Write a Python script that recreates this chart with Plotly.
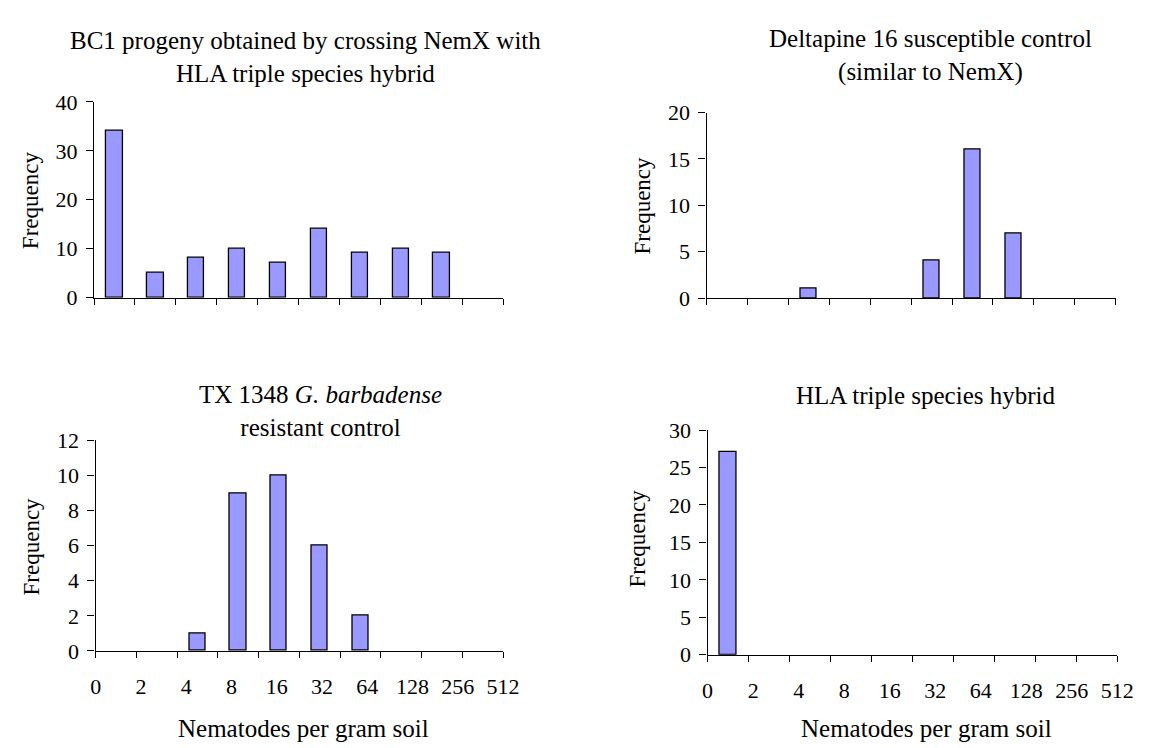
import plotly.graph_objects as go

# ---- data ----
bin_labels = ["0", "2", "4", "8", "16", "32", "64", "128", "256", "512"]
bin_index = [0, 1, 2, 3, 4, 5, 6, 7, 8, 9]  # bins between successive ticks

bc1_freq = [34, 5, 8.2, 10, 7.2, 14.1, 9.2, 10, 9.2, 0]
deltapine_freq = [0, 0, 1, 0, 0, 4, 16, 7, 0, 0]
tx1348_freq = [0, 0, 1, 9, 10, 6, 2, 0, 0, 0]
hla_freq = [27, 0, 0, 0, 0, 0, 0, 0, 0, 0]

titles = [
    "BC1 progeny obtained by crossing NemX with<br>HLA triple species hybrid",
    "Deltapine 16 susceptible control<br>(similar to NemX)",
    "TX 1348 <i>G. barbadense</i><br>resistant control",
    "HLA triple species hybrid",
]
y_ranges = [(0, 40), (0, 20), (0, 12), (0, 30)]
y_dticks = [10, 5, 2, 5]

W, H = 1155, 748
FONT = "Liberation Serif, Times New Roman, serif"
BAR_COLOR = "#9999FF"
TICK_SIZE = 22

# plot-area boxes in pixels: (left, right, top, bottom)
boxes = [
    (81.7, 499.0, 84.7, 287.3),
    (706.7, 1124.0, 95.7, 287.7),
    (83.3, 499.0, 435.0, 652.7),
    (707.7, 1125.7, 424.3, 656.7),
]

fig = go.Figure()
series = [bc1_freq, deltapine_freq, tx1348_freq, hla_freq]
centers = [i + 0.5 for i in bin_index]

for k, vals in enumerate(series):
    ax = "" if k == 0 else str(k + 1)
    fig.add_trace(go.Bar(
        x=centers, y=[v if v else None for v in vals], width=0.4,
        marker=dict(color=BAR_COLOR, line=dict(color="#000000", width=1.3)),
        xaxis="x" + ax, yaxis="y" + ax, showlegend=False, hoverinfo="x+y",
    ))

for k, (l, r, t, b) in enumerate(boxes):
    ax = "" if k == 0 else str(k + 1)
    xdom = [l / W, r / W]
    ydom = [1 - b / H, 1 - t / H]
    fig.layout["xaxis" + ax] = dict(
        domain=xdom, anchor="y" + ax, range=[0, 10],
        tickmode="array", tickvals=list(range(11)), showticklabels=False,
        ticks="outside", ticklen=6, tickwidth=1.3, tickcolor="black",
        showline=True, linecolor="black", linewidth=1.3,
        showgrid=False, zeroline=False, fixedrange=True,
    )
    fig.layout["yaxis" + ax] = dict(
        domain=ydom, anchor="x" + ax, range=list(y_ranges[k]),
        tickmode="linear", tick0=0, dtick=y_dticks[k],
        ticks="outside", ticklen=7, tickwidth=1.3, tickcolor="black",
        showline=True, linecolor="black", linewidth=1.3,
        showgrid=False, zeroline=False,
        tickfont=dict(family=FONT, size=TICK_SIZE, color="black"),
        ticklabelstandoff=4,
    )

# label axes for bottom plots (labels evenly spread across the axis)
for k, base in [(2, "3"), (3, "4")]:
    l, r, t, b = boxes[k]
    newax = str(k + 3)
    fig.add_trace(go.Scatter(
        x=bin_labels, y=[0] * len(bin_labels), mode="none",
        xaxis="x" + newax, yaxis="y" + base, showlegend=False, hoverinfo="skip",
    ))
    fig.layout["xaxis" + newax] = dict(
        domain=[l / W, r / W], anchor="y" + base, overlaying="x" + base,
        side="bottom", type="category", range=[0, 9],
        ticks="", showline=False, showgrid=False, zeroline=False,
        tickfont=dict(family=FONT, size=TICK_SIZE, color="black"),
        ticklabelstandoff=20, fixedrange=True,
    )

# titles and axis titles as annotations (pixel-placed)
def ann(text, x, y, size, angle=0):
    fig.add_annotation(
        text=text, x=x / W, y=1 - y / H, xref="paper", yref="paper",
        xanchor="center", yanchor="middle", showarrow=False, textangle=angle,
        font=dict(family=FONT, size=size, color="black"),
    )

ann(titles[0], 297, 38, 25)
ann(titles[1], 935, 37, 25)
ann(titles[2], 313, 405, 25)
ann(titles[3], 930, 388, 25)

ann("Frequency", 16.7, 186, 23, -90)
ann("Frequency", 641.7, 192, 23, -90)
ann("Frequency", 17.5, 544.5, 23, -90)
ann("Frequency", 636, 536, 23, -90)

ann("Nematodes per gram soil", 295.5, 733, 25)
ann("Nematodes per gram soil", 931, 733, 25)

fig.update_layout(
    width=W, height=H,
    margin=dict(l=0, r=0, t=0, b=0),
    paper_bgcolor="white", plot_bgcolor="white",
    font=dict(family=FONT, color="black"),
    bargap=0,
)

fig.write_html("out.html")
